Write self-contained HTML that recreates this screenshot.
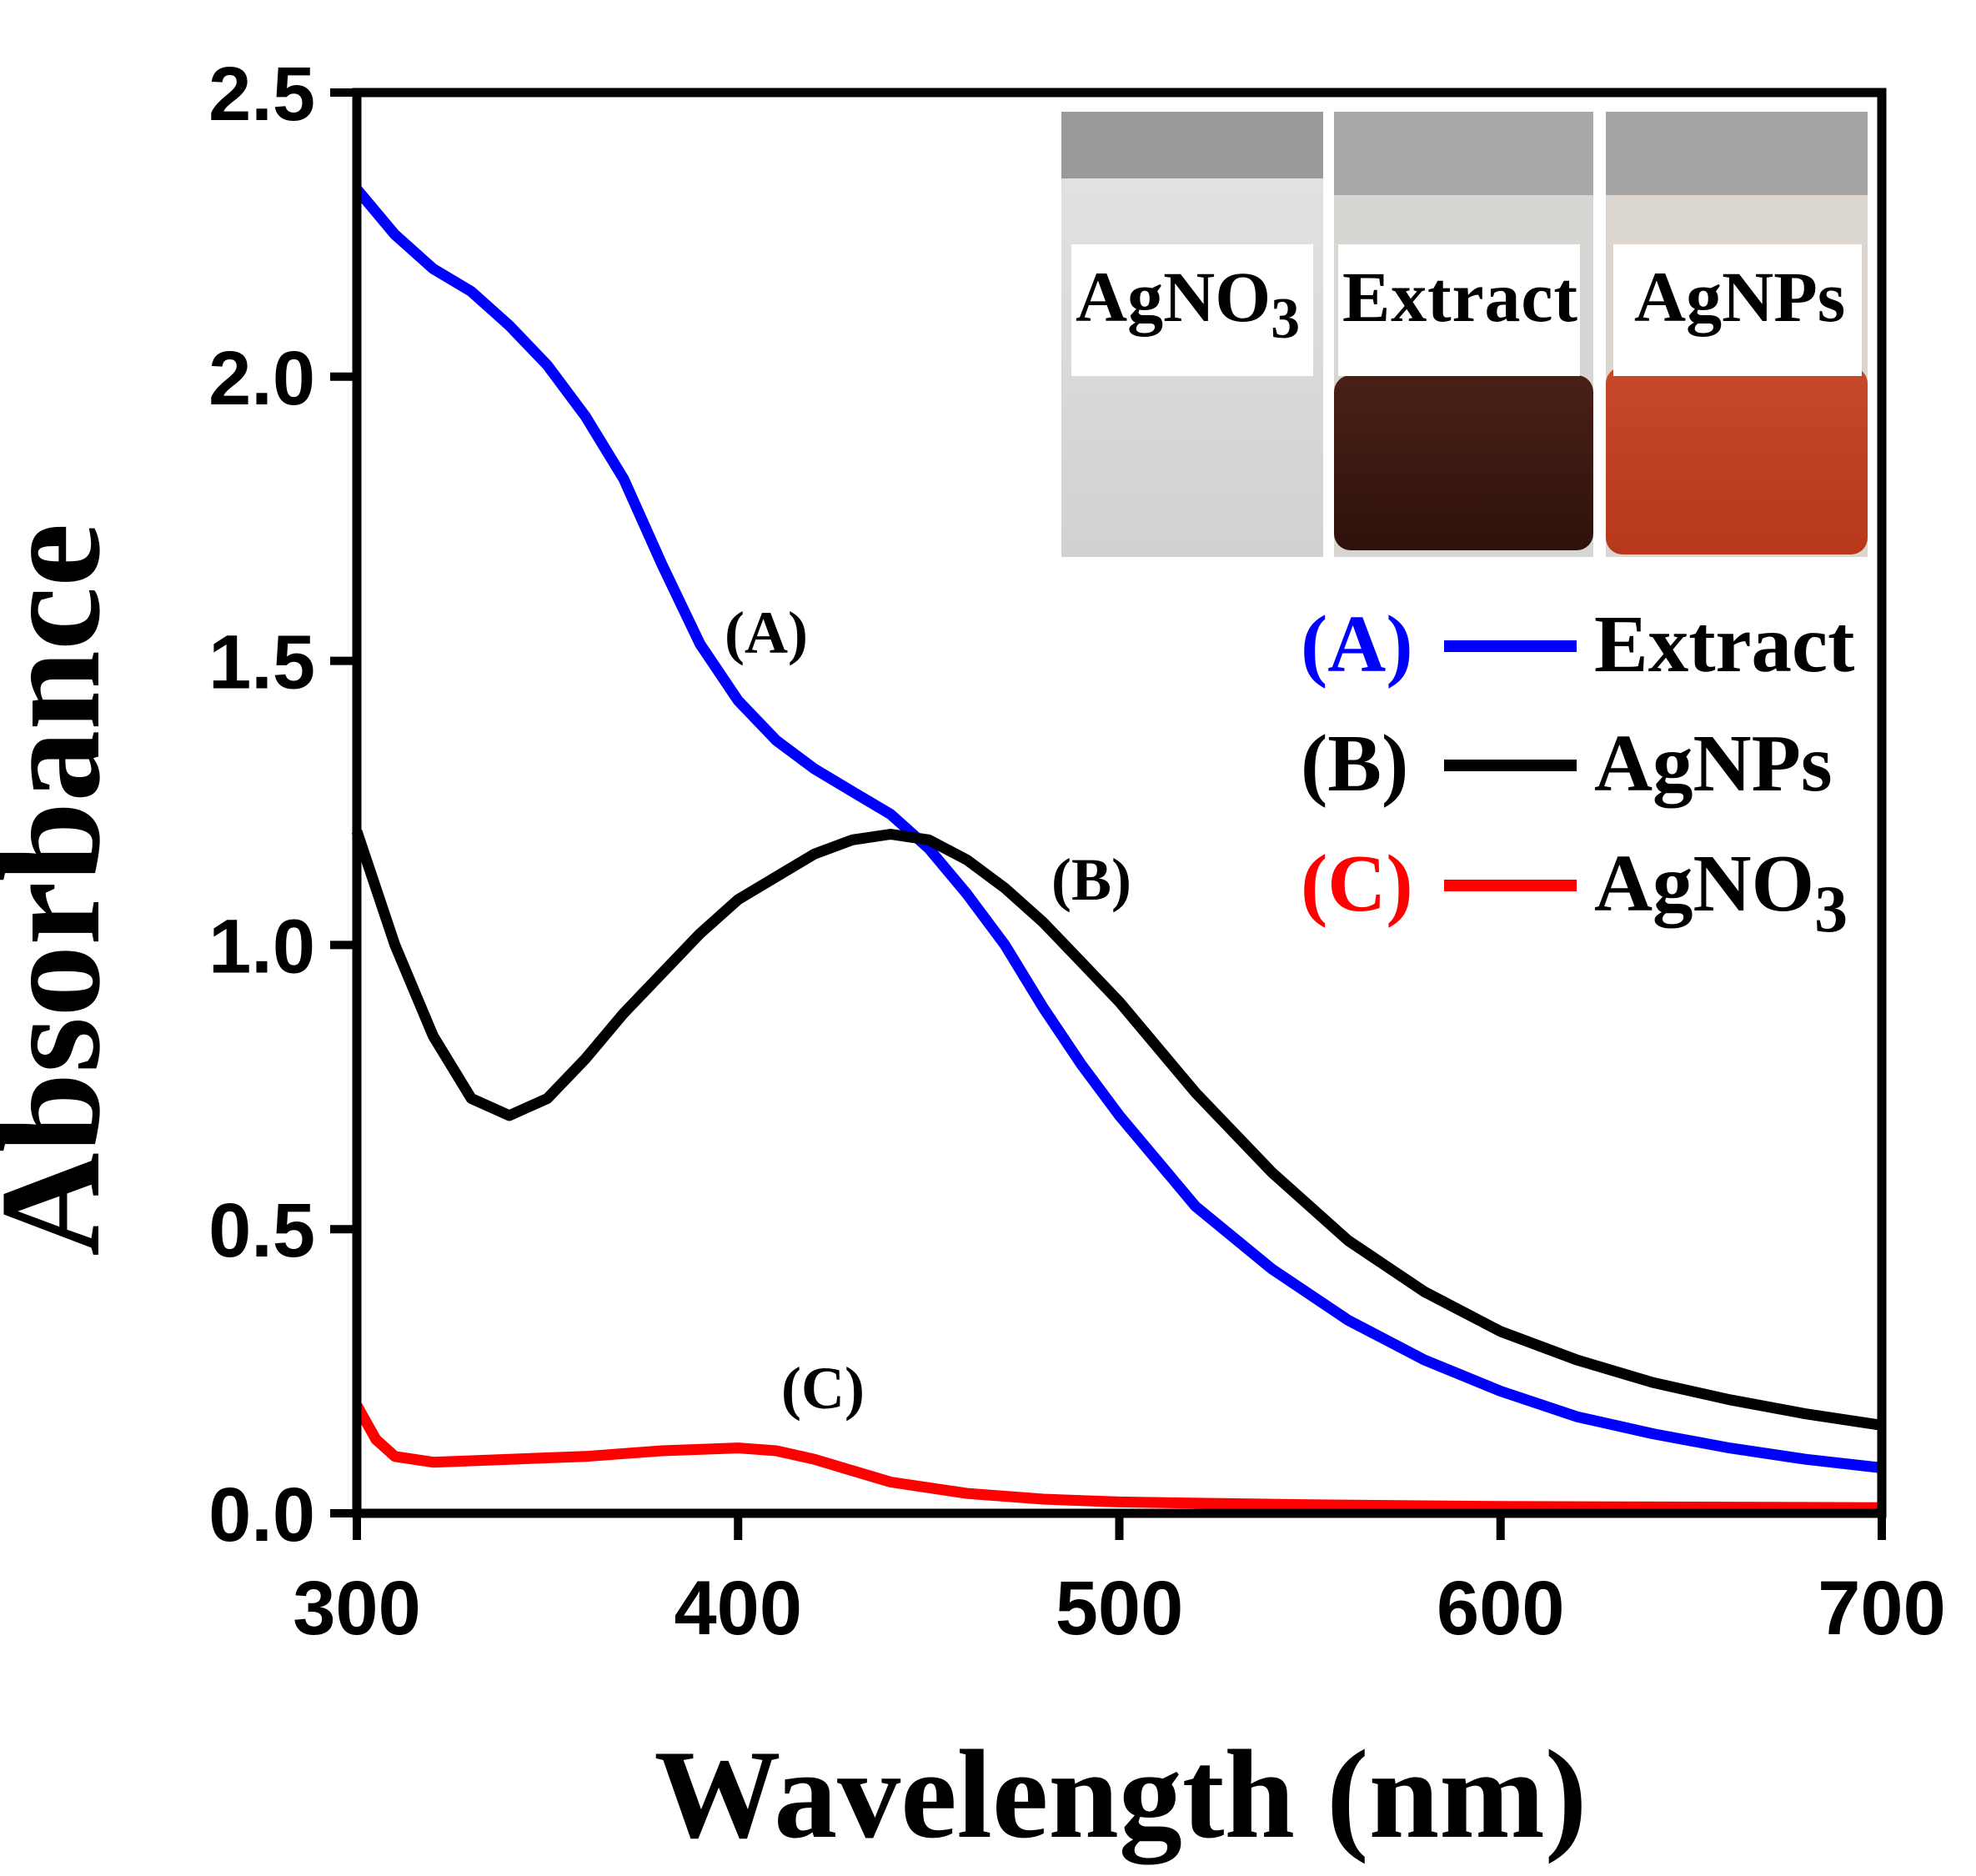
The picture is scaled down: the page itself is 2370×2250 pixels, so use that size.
<!DOCTYPE html>
<html><head><meta charset="utf-8"><style>
html,body{margin:0;padding:0;background:#fff}
svg{display:block}
</style></head><body>
<svg id="chart" width="2370" height="2250" viewBox="0 0 2370 2250" xmlns="http://www.w3.org/2000/svg">
<defs>
<linearGradient id="g1" x1="0" y1="0" x2="0" y2="1"><stop offset="0" stop-color="#e4e4e4"/><stop offset="1" stop-color="#d0d2d2"/></linearGradient>
<linearGradient id="g2" x1="0" y1="0" x2="0" y2="1"><stop offset="0" stop-color="#4a2016"/><stop offset="1" stop-color="#2e120c"/></linearGradient>
<linearGradient id="g3" x1="0" y1="0" x2="0" y2="1"><stop offset="0" stop-color="#c8482a"/><stop offset="1" stop-color="#b8381c"/></linearGradient>
</defs>
<g id="inset">
  <rect x="1273" y="134" width="314" height="534" fill="url(#g1)"/>
  <rect x="1600" y="134" width="311" height="534" fill="#d8d6d2"/>
  <rect x="1600" y="450" width="311" height="210" rx="20" fill="url(#g2)"/>
  <rect x="1926" y="134" width="314" height="534" fill="#dcd6d0"/>
  <rect x="1926" y="440" width="314" height="225" rx="20" fill="url(#g3)"/>
  <rect x="1273" y="134" width="314" height="80" fill="#9a9a9a"/>
  <rect x="1600" y="134" width="311" height="100" fill="#a9a9a9"/>
  <rect x="1926" y="134" width="314" height="100" fill="#a5a5a5"/>
  <rect x="1285" y="293" width="290" height="158" fill="#fff"/>
  <rect x="1605" y="293" width="290" height="158" fill="#fff"/>
  <rect x="1935" y="293" width="298" height="158" fill="#fff"/>
  <g font-family="'Liberation Serif',serif" font-weight="bold" font-size="86" fill="#000">
    <text x="1290" y="385">AgNO<tspan font-size="70" dy="20">3</tspan></text>
    <text x="1610" y="385" textLength="282">Extract</text>
    <text x="1960" y="385">AgNPs</text>
  </g>
</g>
<g id="plot"></g>
<g font-family="'Liberation Serif',serif" font-weight="bold" fill="#000">
  <text transform="translate(118,1067) rotate(-90)" text-anchor="middle" font-size="172">Absorbance</text>
  <text x="1344" y="2203" text-anchor="middle" font-size="152">Wavelength (nm)</text>
  <text x="919" y="783" text-anchor="middle" font-size="72">(A)</text>
  <text x="1309" y="1079" text-anchor="middle" font-size="72">(B)</text>
  <text x="987" y="1689" text-anchor="middle" font-size="72">(C)</text>
</g>
<g id="legend" font-family="'Liberation Serif',serif" font-weight="bold" font-size="97">
  <g>
    <text x="1560" y="805" fill="#0000ff">(A)</text>
    <line x1="1732" y1="775" x2="1891" y2="775" stroke="#0000ff" stroke-width="14"/>
    <text x="1912" y="805" fill="#000">Extract</text>
  </g>
  <g>
    <text x="1560" y="948" fill="#000">(B)</text>
    <line x1="1732" y1="918" x2="1891" y2="918" stroke="#000" stroke-width="14"/>
    <text x="1912" y="948" fill="#000">AgNPs</text>
  </g>
  <g>
    <text x="1560" y="1092" fill="#ff0000">(C)</text>
    <line x1="1732" y1="1062" x2="1891" y2="1062" stroke="#ff0000" stroke-width="14"/>
    <text x="1912" y="1092" fill="#000">AgNO<tspan font-size="80" dy="25">3</tspan></text>
  </g>
</g>
</svg>
<script>
const xExtract=[300,310,320,330,340,350,360,370,380,390,400,410,420,430,440,450,460,470,480,490,500,520,540,560,580,600,620,640,660,680,700];
const yExtract=[2.33,2.25,2.19,2.15,2.09,2.02,1.93,1.82,1.67,1.53,1.43,1.36,1.31,1.27,1.23,1.17,1.09,1.00,0.89,0.79,0.70,0.54,0.43,0.34,0.27,0.215,0.17,0.14,0.115,0.095,0.08];
const xAgNPs=[300,310,320,330,340,350,360,370,380,390,400,410,420,430,440,450,460,470,480,490,500,520,540,560,580,600,620,640,660,680,700];
const yAgNPs=[1.2,1.0,0.84,0.73,0.70,0.73,0.80,0.88,0.95,1.02,1.08,1.12,1.16,1.185,1.195,1.185,1.15,1.10,1.04,0.97,0.90,0.74,0.60,0.48,0.39,0.32,0.27,0.23,0.20,0.175,0.155];
const xAgNO3=[300,305,310,320,340,360,380,400,410,420,430,440,460,480,500,550,600,700];
const yAgNO3=[0.19,0.13,0.10,0.09,0.095,0.10,0.11,0.115,0.11,0.095,0.075,0.055,0.035,0.025,0.02,0.015,0.012,0.01];
const xTicks=[300,400,500,600,700];
const yTicks=[0.0,0.5,1.0,1.5,2.0,2.5];
const yTickLabels=["0.0","0.5","1.0","1.5","2.0","2.5"];

const X0=428,X1=2257,Y0=1815,Y1=111;
const sx=v=>X0+(v-300)/(700-300)*(X1-X0);
const sy=v=>Y0-(v-0)/(2.5-0)*(Y0-Y1);
const NS="http://www.w3.org/2000/svg";
const plot=document.getElementById('plot');
function mk(tag,attrs){const e=document.createElementNS(NS,tag);for(const k in attrs)e.setAttribute(k,attrs[k]);return e;}

function series(xs,ys,color,name){
  let d='';
  for(let i=0;i<xs.length;i++){d+=(i?'L':'M')+sx(xs[i]).toFixed(1)+','+sy(ys[i]).toFixed(1);}
  const p=mk('path',{d:d,fill:'none',stroke:color,'stroke-width':13,'stroke-linejoin':'round'});
  
  
  plot.appendChild(p);
}
series(xAgNO3,yAgNO3,'#ff0000','series-agno3');
series(xExtract,yExtract,'#0000ff','series-extract');
series(xAgNPs,yAgNPs,'#000000','series-agnps');

const frame=mk('rect',{x:X0,y:Y1,width:X1-X0,height:Y0-Y1,fill:'none',stroke:'#000','stroke-width':11});


plot.appendChild(frame);

xTicks.forEach(v=>{
  const t=mk('line',{x1:sx(v),x2:sx(v),y1:Y0,y2:Y0+32,stroke:'#000','stroke-width':10});
  
  
  plot.appendChild(t);
  const l=mk('text',{x:sx(v),y:1960,'text-anchor':'middle','font-family':"'Liberation Sans',sans-serif",'font-weight':'bold','font-size':92});
  l.textContent=String(v);
  
  
  plot.appendChild(l);
});
yTicks.forEach((v,i)=>{
  const t=mk('line',{x1:X0-32,x2:X0,y1:sy(v),y2:sy(v),stroke:'#000','stroke-width':10});
  
  
  plot.appendChild(t);
  const l=mk('text',{x:378,y:sy(v)+33,'text-anchor':'end','font-family':"'Liberation Sans',sans-serif",'font-weight':'bold','font-size':92});
  l.textContent=yTickLabels[i];
  
  
  plot.appendChild(l);
});
</script>
</body></html>
